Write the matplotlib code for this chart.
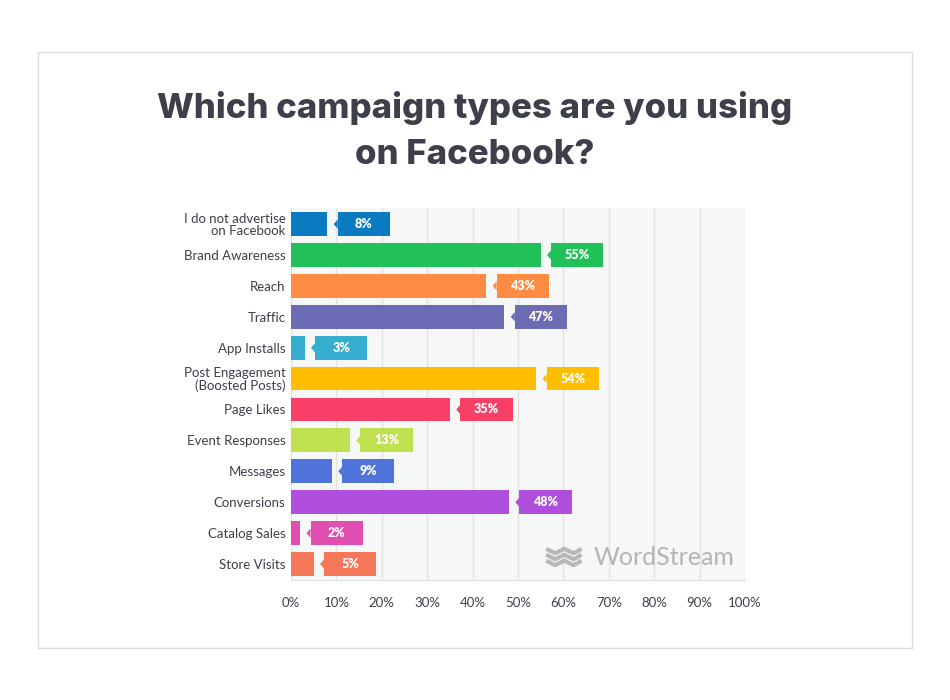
import matplotlib
matplotlib.use("Agg")
import matplotlib.pyplot as plt
from matplotlib.patches import Rectangle, Polygon

# survey data
categories = ["I do not advertise\non Facebook", "Brand Awareness", "Reach", "Traffic",
              "App Installs", "Post Engagement\n(Boosted Posts)", "Page Likes",
              "Event Responses", "Messages", "Conversions", "Catalog Sales", "Store Visits"]
values = [8, 55, 43, 47, 3, 54, 35, 13, 9, 48, 2, 5]
colors = ["#0b7bc1", "#22c059", "#ff8c42", "#6c6cb5", "#36aed0", "#ffbe00",
          "#f83f67", "#bfe04f", "#4f73d9", "#b04fdd", "#e04fb0", "#f5775a"]
xticks = list(range(0, 101, 10))

plt.rcParams['font.family'] = ['Lato', 'DejaVu Sans']
txt = "#3d3f4a"

fig = plt.figure(figsize=(9.5, 7), dpi=100)
fig.patch.set_facecolor("white")

# outer frame
fig.patches.append(Rectangle((0.04, 0.0743), 0.92, 0.8514, transform=fig.transFigure,
                             fill=False, edgecolor="#dcdcdc", linewidth=1))

title_font = dict(ha="center", va="center", fontsize=25, fontweight="heavy",
                  color=txt, family=["Inter", "DejaVu Sans"])
fig.text(0.5, 0.846, "Which campaign types are you using", **title_font)
fig.text(0.5, 0.779, "on Facebook?", **title_font)

ax = fig.add_axes([0.3063, 0.1714, 0.4779, 0.5314])
ax.set_facecolor("#f6f7f7")
ypos = list(range(len(categories)))
bh = 0.77
ax.barh(ypos, values, height=bh, color=colors, zorder=3)

# value label boxes with a small pointer
gap, bw = 2.3, 11.5
for y, v, c in zip(ypos, values, colors):
    x0 = v + gap
    ax.add_patch(Rectangle((x0, y - bh / 2), bw, bh, facecolor=c, edgecolor="none", zorder=3))
    ax.add_patch(Polygon([(x0, y - 0.15), (x0 - 0.9, y), (x0, y + 0.15)], closed=True,
                         facecolor=c, edgecolor="none", zorder=3))
    ax.text(x0 + bw / 2, y, f"{v}%", ha="center", va="center", color="white",
            fontsize=9, fontweight="heavy", zorder=4)

ax.set_xlim(0, 100)
ax.set_ylim(11.52, -0.52)
ax.set_xticks(xticks)
ax.set_xticklabels([f"{t}%" for t in xticks])
ax.set_yticks(ypos)
ax.set_yticklabels(categories, linespacing=1.0)
ax.tick_params(axis="both", length=0, labelsize=9.5, colors=txt)
ax.tick_params(axis="x", pad=12)
ax.tick_params(axis="y", pad=4)
ax.grid(axis="x", color="#e2e2e2", linewidth=1, zorder=0)
for s in ["top", "right", "left"]:
    ax.spines[s].set_visible(False)
ax.spines["bottom"].set_color("#e2e2e2")

# watermark logo: three wavy strokes
wave_x = [0.562, 0.572, 0.582, 0.592, 0.602, 0.612, 0.622, 0.632, 0.640]
wave_y = [0.006, 0.0, -0.006, 0.0, 0.006, 0.0, -0.006, 0.0, 0.006]
for off in [0.078, 0.062, 0.046]:
    ax.plot(wave_x, [off + w for w in wave_y], transform=ax.transAxes, color="#b8b8b8",
            linewidth=3.0, solid_joinstyle="round", solid_capstyle="butt", zorder=2)
ax.text(0.667, 0.060, "WordStream", transform=ax.transAxes, fontsize=18, color="#b5b5b5",
        ha="left", va="center", zorder=2)

fig.savefig("out.png", dpi=100)
